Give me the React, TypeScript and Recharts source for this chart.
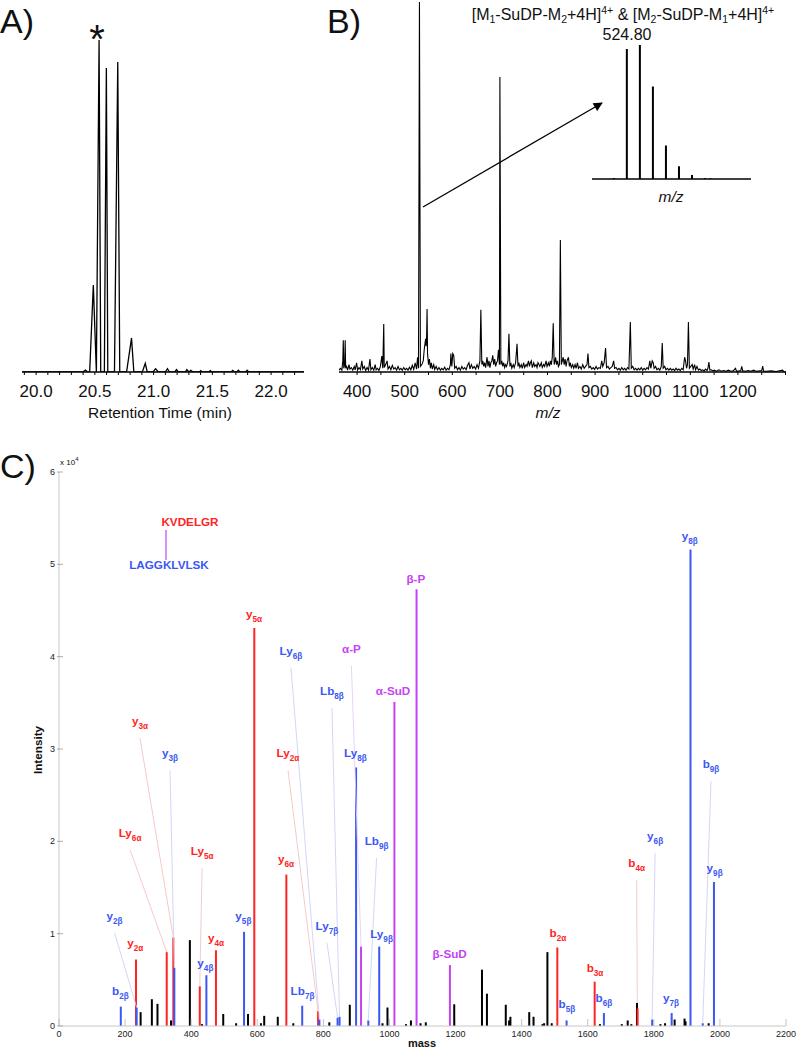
import React from 'react';
import { LineChart, Line, BarChart, Bar, XAxis, YAxis, ReferenceLine, ReferenceDot } from 'recharts';

const FONT = '"Liberation Sans", Arial, Helvetica, sans-serif';

// ---- A) chromatogram: [retention time (min), relative intensity]
const chromatogram: [number, number][] = [
  [19.88, 0], [20.4, 0], [20.419, 0.6], [20.44, 0], [20.456, 0], [20.487, 26.2], [20.513, 0],
  [20.536, 100], [20.55, 0], [20.581, 0], [20.598, 91.6], [20.61, 0], [20.667, 0], [20.695, 93.4],
  [20.712, 0], [20.77, 0], [20.812, 10.2], [20.832, 0], [20.904, 0], [20.929, 2.6], [20.946, 0],
  [20.995, 0], [21.017, 1.0], [21.04, 0], [21.1, 0], [21.118, 1.0], [21.135, 0], [21.18, 0],
  [21.195, 0.7], [21.21, 0], [21.27, 0], [21.283, 0.7], [21.3, 0], [21.317, 0.5], [21.335, 0],
  [21.39, 0], [21.402, 0.4], [21.415, 0], [21.47, 0], [21.482, 0.4], [21.495, 0], [21.66, 0],
  [21.673, 0.5], [21.69, 0], [21.71, 0], [21.721, 0.5], [21.735, 0], [21.785, 0], [21.796, 0.5],
  [21.81, 0], [22.28, 0],
];
const rtTicks = [19.9, 20, 20.1, 20.2, 20.3, 20.4, 20.5, 20.6, 20.7, 20.8, 20.9, 21, 21.1, 21.2, 21.3, 21.4, 21.5, 21.6, 21.7, 21.8, 21.9, 22, 22.1, 22.2];

// ---- B) full MS scan: [m/z, relative abundance]
const msScan: [number, number][] = [
  [362, 0.5], [365, 1], [368, 0.5], [370, 3], [371, 8.6], [372, 1], [374, 2], [375, 8.6], [376, 1], [378, 1.5],
  [380, 0.5], [383, 2], [385, 0.8], [388, 1.2], [391, 0.5], [394, 1.5], [396, 0.6], [399, 2.5], [401, 0.5], [404, 1.2],
  [407, 0.6], [410, 3], [412, 0.8], [415, 1.5], [418, 0.4], [421, 1.2], [424, 0.5], [427, 3.5], [429, 0.6], [432, 1.2],
  [435, 0.5], [438, 2], [440, 0.6], [443, 1], [446, 0.4], [449, 1.5], [452, 4.3], [454, 1], [456, 13], [457, 1.2],
  [460, 2], [463, 3], [465, 0.8], [468, 1.5], [471, 0.6], [474, 1.8], [477, 0.8], [480, 1.2], [483, 0.5], [486, 1.5],
  [489, 0.6], [492, 1], [495, 0.5], [498, 1.2], [501, 0.6], [504, 1], [507, 0.5], [510, 1.3], [513, 0.6], [516, 1.8],
  [519, 0.7], [522, 2.5], [525, 0.8], [527, 4], [529, 1], [531, 100], [533, 1.5], [536, 2], [539, 3], [541, 6],
  [543, 8], [544, 9], [545, 7], [546, 9], [547, 17], [548, 5], [550, 2], [552, 3.5], [554, 1], [556, 2.5],
  [558, 0.8], [561, 2], [563, 0.7], [566, 1.5], [569, 0.6], [572, 1.2], [575, 0.5], [578, 1], [581, 0.6], [584, 1.3],
  [587, 0.5], [590, 1], [593, 0.6], [596, 2], [597, 5], [599, 1.5], [601, 5], [603, 4.5], [605, 1], [608, 1.5],
  [611, 0.6], [614, 1.2], [617, 0.5], [620, 1.5], [623, 0.8], [626, 1.2], [629, 0.6], [632, 1.8], [635, 2.5], [637, 0.8],
  [640, 2], [643, 1], [646, 1.5], [649, 0.8], [652, 2], [655, 1], [658, 3], [660, 16.8], [662, 2], [664, 3],
  [666, 1.5], [668, 2.5], [670, 1.2], [673, 4], [675, 1.5], [677, 3], [679, 1.2], [681, 2.5], [683, 3], [685, 4.5],
  [687, 2], [689, 3.5], [691, 1.5], [693, 2.5], [695, 3], [697, 6], [699, 2], [700, 79.7], [702, 2], [704, 3],
  [706, 1.5], [708, 2.5], [710, 1.2], [712, 2], [714, 1.5], [717, 3], [719, 10.3], [721, 1.5], [723, 2.5], [725, 1],
  [728, 2], [730, 1.2], [733, 2.5], [736, 7.6], [738, 1.5], [740, 2.5], [742, 1.2], [745, 2], [747, 1], [750, 2.5],
  [752, 1.2], [755, 2], [757, 1.5], [760, 3], [762, 1.5], [764, 2.5], [766, 3], [768, 1.2], [771, 2.5], [773, 1.5],
  [776, 2], [778, 1.2], [780, 2.5], [782, 2], [784, 1.5], [787, 2.5], [789, 1.2], [792, 2], [794, 1.5], [797, 3],
  [799, 1.5], [802, 2.5], [804, 1.5], [806, 3], [808, 2], [810, 4], [812, 13.2], [814, 2], [816, 3], [817, 4],
  [819, 2], [821, 3], [823, 1.5], [825, 2], [827, 35.7], [829, 2], [831, 3], [833, 4], [835, 2], [837, 3.5],
  [839, 1.5], [841, 3], [844, 4], [846, 1.5], [848, 2.5], [850, 1.2], [853, 2], [855, 1], [858, 2], [860, 1],
  [863, 2.5], [865, 1], [868, 1.5], [871, 0.8], [874, 2], [877, 1], [880, 1.5], [883, 2], [885, 5], [887, 1.2],
  [890, 1.5], [893, 0.8], [896, 1.2], [899, 0.7], [902, 1.5], [905, 0.8], [908, 1.2], [911, 1], [914, 3], [916, 1.5],
  [919, 2.5], [922, 6.5], [924, 1.2], [927, 1.5], [930, 0.8], [933, 1.2], [936, 1.5], [939, 3], [941, 1], [944, 1.2],
  [947, 0.6], [950, 1], [953, 0.5], [956, 1.2], [959, 0.6], [962, 1], [965, 0.5], [968, 1.2], [971, 0.8], [974, 13.5],
  [976, 1], [979, 1.5], [982, 0.6], [985, 1], [988, 0.5], [991, 1], [994, 0.6], [997, 1.2], [1000, 0.5], [1003, 1],
  [1006, 0.6], [1009, 1.2], [1012, 0.8], [1015, 3], [1017, 1], [1020, 3], [1022, 2.5], [1024, 1], [1027, 1.5], [1030, 0.6],
  [1033, 1], [1036, 0.5], [1039, 1.5], [1041, 7.8], [1043, 1], [1046, 1.5], [1049, 0.6], [1052, 1], [1055, 0.5], [1058, 1],
  [1061, 0.5], [1064, 0.8], [1067, 0.4], [1070, 1], [1073, 0.5], [1076, 0.8], [1079, 0.4], [1082, 1], [1085, 0.6], [1088, 4],
  [1090, 3], [1092, 1], [1094, 2], [1096, 13.5], [1098, 1], [1101, 1.5], [1104, 2], [1106, 0.8], [1109, 2], [1111, 0.6],
  [1114, 1.5], [1117, 0.5], [1120, 0.8], [1123, 0.4], [1126, 0.6], [1129, 0.3], [1132, 0.8], [1135, 0.4], [1137, 1], [1139, 2.7],
  [1141, 0.5], [1144, 0.6], [1147, 0.3], [1150, 0.5], [1155, 0.2], [1160, 0.6], [1165, 0.2], [1170, 0.4], [1175, 0.2], [1180, 0.5],
  [1185, 0.2], [1190, 0.3], [1195, 1], [1197, 0.2], [1202, 0.3], [1206, 0.4], [1208, 1.5], [1210, 0.3], [1215, 0.2], [1222, 0.4],
  [1227, 0.2], [1233, 0.5], [1238, 0.2], [1245, 0.3], [1250, 0.4], [1252, 1.6], [1254, 0.2], [1260, 0.2], [1270, 0.3], [1280, 0.1],
  [1294, 0.5], [1296, 0.1], [1301, 0],
];
const mzTicks = [400, 450, 500, 550, 600, 650, 700, 750, 800, 850, 900, 950, 1000, 1050, 1100, 1150, 1200, 1250, 1300];

// inset: isotope envelope of the 4+ precursor
const isotopes: [number, number][] = [
  [524.3, 0.7], [524.55, 97], [524.8, 100], [525.05, 69], [525.3, 25], [525.55, 9.5], [525.8, 3], [526.05, 0.7], [526.15, 0.5],
];

// ---- C) MS/MS: [mass, intensity]
const unassigned: [number, number][] = [
  [247, 1500], [281, 2900], [298, 2400], [339, 600], [396, 9300], [433, 200], [497, 1300], [536, 300], [572, 1300],
  [611, 300], [621, 1100], [662, 1000], [709, 300], [818, 400], [880, 2300], [979, 300], [994, 2000], [1050, 200],
  [1065, 600], [1094, 300], [1110, 400], [1196, 2350], [1280, 6100], [1295, 3500], [1352, 2300], [1362, 600],
  [1366, 1000], [1423, 1500], [1436, 1000], [1463, 200], [1468, 300], [1478, 8000], [1491, 300], [1637, 200],
  [1703, 200], [1721, 600], [1732, 200], [1749, 2500], [1820, 200], [1834, 300], [1863, 700], [1893, 800],
  [1896, 500], [1966, 300],
];
const alphaIons: [number, number][] = [
  [233, 7200], [326, 8000], [346, 9600], [426, 4300], [475, 8200], [591, 43100], [688, 16400], [784, 1600],
  [1508, 8500], [1621, 4800], [1751, 1900],
];
const betaIons: [number, number][] = [
  [187, 2100], [235, 2000], [349, 6300], [446, 5500], [560, 10200], [736, 2200], [788, 700], [843, 900],
  [849, 1000], [899, 28000], [936, 600], [969, 8600], [1536, 600], [1649, 1400], [1795, 700], [1854, 1400],
  [1911, 51600], [1948, 300], [1982, 15600],
];
const crosslinkIons: [number, number][] = [
  [914, 8600], [1015, 35100], [1082, 47300], [1183, 6600],
];
const massTicks = [0, 200, 400, 600, 800, 1000, 1200, 1400, 1600, 1800, 2000, 2200];
const intTicks = [0, 10000, 20000, 30000, 40000, 50000, 60000];

// ion annotations: label anchor (mass, intensity) and optional leader target
const ionLabels = [
  { ion: 'y', sub: '5α', kind: 'a', at: [590, 44200] },
  { ion: 'Ly', sub: '6β', kind: 'b', at: [702, 40200], to: [788, 700] },
  { ion: 'Lb', sub: '8β', kind: 'b', at: [826, 35850], to: [849, 1000] },
  { ion: 'α-P', sub: '', kind: 'x', at: [885, 40400], to: [914, 8600] },
  { ion: 'α-SuD', sub: '', kind: 'x', at: [1011, 35850] },
  { ion: 'Ly', sub: '8β', kind: 'b', at: [897, 29100] },
  { ion: 'β-P', sub: '', kind: 'x', at: [1080, 48000] },
  { ion: 'y', sub: '8β', kind: 'b', at: [1909, 52600] },
  { ion: 'y', sub: '3α', kind: 'a', at: [245, 32600], to: [346, 9600] },
  { ion: 'y', sub: '3β', kind: 'b', at: [336, 29100], to: [349, 6300] },
  { ion: 'Ly', sub: '6α', kind: 'a', at: [215, 20500], to: [326, 8000] },
  { ion: 'Ly', sub: '5α', kind: 'a', at: [433, 18500], to: [426, 4300] },
  { ion: 'y', sub: '2β', kind: 'b', at: [168, 11500], to: [235, 2000] },
  { ion: 'y', sub: '2α', kind: 'a', at: [231, 8600] },
  { ion: 'y', sub: '4α', kind: 'a', at: [475, 9100] },
  { ion: 'y', sub: '4β', kind: 'b', at: [443, 6400] },
  { ion: 'b', sub: '2β', kind: 'b', at: [186, 3400] },
  { ion: 'y', sub: '5β', kind: 'b', at: [558, 11500] },
  { ion: 'y', sub: '6α', kind: 'a', at: [687, 17700] },
  { ion: 'Lb', sub: '7β', kind: 'b', at: [737, 3400] },
  { ion: 'Ly', sub: '2α', kind: 'a', at: [693, 29100], to: [784, 1600] },
  { ion: 'Ly', sub: '7β', kind: 'b', at: [811, 10400], to: [843, 900] },
  { ion: 'Lb', sub: '9β', kind: 'b', at: [961, 19600], to: [936, 600] },
  { ion: 'Ly', sub: '9β', kind: 'b', at: [976, 9500] },
  { ion: 'β-SuD', sub: '', kind: 'x', at: [1182, 7400] },
  { ion: 'b', sub: '2α', kind: 'a', at: [1510, 9600] },
  { ion: 'b', sub: '5β', kind: 'b', at: [1537, 1950] },
  { ion: 'b', sub: '3α', kind: 'a', at: [1622, 5850] },
  { ion: 'b', sub: '6β', kind: 'b', at: [1649, 2600] },
  { ion: 'b', sub: '4α', kind: 'a', at: [1748, 17200], to: [1750, 2500] },
  { ion: 'y', sub: '6β', kind: 'b', at: [1804, 20100], to: [1795, 700] },
  { ion: 'y', sub: '7β', kind: 'b', at: [1852, 2600] },
  { ion: 'b', sub: '9β', kind: 'b', at: [1973, 27900], to: [1948, 300] },
  { ion: 'y', sub: '9β', kind: 'b', at: [1984, 16700] },
];

const KIND_COLOR: Record<string, string> = { n: '#000000', a: '#ff2424', b: '#3b58f4', x: '#c444f2' };
const LEADER_COLOR: Record<string, string> = { a: '#f6c3c3', b: '#cdd3f6', x: '#e6cdf6' };

const chromData = chromatogram.map(([t, v]) => ({ t, v }));
const msData = msScan.map(([mz, v]) => ({ mz, v }));
const isoData = isotopes.map(([mz, v]) => ({ mz, v, kind: 'n' }));
const msmsData = [
  ...unassigned.map(([mass, v]) => ({ mass, v, kind: 'n' })),
  ...alphaIons.map(([mass, v]) => ({ mass, v, kind: 'a' })),
  ...betaIons.map(([mass, v]) => ({ mass, v, kind: 'b' })),
  ...crosslinkIons.map(([mass, v]) => ({ mass, v, kind: 'x' })),
];

// thin stick centred on the bar slot
const Stick = (p: any) => {
  const { x, y, width, height, payload } = p;
  if (x == null || y == null || !isFinite(x) || !isFinite(y)) return null;
  const cx = x + (width || 0) / 2;
  return <rect x={cx - 1} y={y} width={2} height={Math.max(height || 0, 0.6)} fill={KIND_COLOR[payload.kind]} />;
};

const MassTick = (p: any) => {
  const { x, y, payload } = p;
  return (
    <g>
      <line x1={x} x2={x} y1={y - 4} y2={y - 11} stroke="#b5b5b5" strokeWidth={0.8} />
      <text x={x} y={y + 7} textAnchor="middle" fontSize={9} fill="#222" fontFamily={FONT}>{payload.value}</text>
    </g>
  );
};

const IntTick = (p: any) => {
  const { x, y, payload } = p;
  return (
    <g>
      <line x1={x + 2} x2={x + 8} y1={y} y2={y} stroke="#999" strokeWidth={0.8} />
      <text x={x} y={y + 3} textAnchor="end" fontSize={9} fill="#222" fontFamily={FONT}>{payload.value / 10000}</text>
    </g>
  );
};

const IonLabel = ({ cx, cy, ion, sub, color }: any) => (
  <text x={cx} y={cy} textAnchor="middle" fontSize={11.7} fontWeight="bold" fill={color} fontFamily={FONT}>
    {ion}
    {sub ? <tspan dy={4} fontSize={8.2}>{sub}</tspan> : null}
  </text>
);

export default function App() {
  const txt = { fontFamily: FONT, fill: '#111' };
  return (
    <div style={{ position: 'absolute', left: 0, top: 0, width: 797, height: 1050, background: '#fff', overflow: 'hidden' }}>
      {/* A */}
      <div style={{ position: 'absolute', left: 0, top: 0 }}>
        <LineChart width={320} height={430} data={chromData} margin={{ top: 40, right: 16, bottom: 0, left: 22 }}>
          <XAxis
            type="number"
            dataKey="t"
            domain={[19.88, 22.28]}
            allowDataOverflow
            ticks={rtTicks}
            interval={0}
            tickFormatter={(v: number) => (Math.abs(v * 2 - Math.round(v * 2)) < 1e-6 ? v.toFixed(1) : '')}
            tickSize={3}
            tickMargin={10}
            height={58}
            axisLine={{ stroke: '#000', strokeWidth: 1.5 }}
            tickLine={{ stroke: '#000' }}
            tick={{ fontSize: 17, fill: '#111', fontFamily: FONT }}
          />
          <YAxis hide domain={[0, 100]} allowDataOverflow />
          <Line type="linear" dataKey="v" stroke="#000" strokeWidth={1.3} dot={false} isAnimationActive={false} />
        </LineChart>
      </div>

      {/* B */}
      <div style={{ position: 'absolute', left: 330, top: 0 }}>
        <LineChart width={467} height={430} data={msData} margin={{ top: 2, right: 11, bottom: 0, left: 9 }}>
          <XAxis
            type="number"
            dataKey="mz"
            domain={[362, 1301]}
            allowDataOverflow
            ticks={mzTicks}
            interval={0}
            tickFormatter={(v: number) => (v % 100 === 0 && v <= 1200 ? String(v) : '')}
            tickSize={3}
            tickMargin={10}
            height={58}
            axisLine={{ stroke: '#000', strokeWidth: 1.5 }}
            tickLine={{ stroke: '#000' }}
            tick={{ fontSize: 17, fill: '#111', fontFamily: FONT }}
          />
          <YAxis hide domain={[0, 100]} allowDataOverflow />
          <Line type="linear" dataKey="v" stroke="#000" strokeWidth={1.1} dot={false} isAnimationActive={false} />
        </LineChart>
      </div>

      {/* B inset */}
      <div style={{ position: 'absolute', left: 592, top: 45 }}>
        <BarChart width={159} height={140} data={isoData} margin={{ top: 0, right: 0, bottom: 0, left: 0 }}>
          <XAxis
            type="number"
            dataKey="mz"
            domain={[523.88, 526.93]}
            allowDataOverflow
            tick={false}
            tickLine={false}
            height={6}
            axisLine={{ stroke: '#000', strokeWidth: 1.3 }}
          />
          <YAxis hide domain={[0, 100]} allowDataOverflow />
          <Bar dataKey="v" shape={Stick} isAnimationActive={false} />
        </BarChart>
      </div>

      {/* C */}
      <div style={{ position: 'absolute', left: 0, top: 440 }}>
        <BarChart width={797} height={610} data={msmsData} margin={{ top: 32, right: 11, bottom: 0, left: 0 }}>
          <XAxis
            type="number"
            dataKey="mass"
            domain={[0, 2200]}
            allowDataOverflow
            ticks={massTicks}
            interval={0}
            tickSize={0}
            tickMargin={4}
            tickLine={false}
            height={24}
            axisLine={{ stroke: '#c8c8c8', strokeWidth: 1 }}
            tick={<MassTick />}
          />
          <YAxis
            type="number"
            domain={[0, 60000]}
            allowDataOverflow
            ticks={intTicks}
            interval={0}
            width={59}
            tickSize={0}
            tickMargin={4}
            tickLine={false}
            axisLine={{ stroke: '#c8c8c8', strokeWidth: 1 }}
            tick={<IntTick />}
          />
          {ionLabels.filter((l) => l.to).map((l, i) => (
            <ReferenceLine
              key={'ld' + i}
              segment={[{ x: l.at[0], y: l.at[1] - 1400 }, { x: (l.to as number[])[0], y: (l.to as number[])[1] }]}
              stroke={LEADER_COLOR[l.kind]}
              strokeWidth={0.9}
            />
          ))}
          <Bar dataKey="v" shape={Stick} isAnimationActive={false} />
          {ionLabels.map((l, i) => (
            <ReferenceDot
              key={'lb' + i}
              x={l.at[0]}
              y={l.at[1]}
              r={0}
              shape={(p: any) => <IonLabel cx={p.cx} cy={p.cy} ion={l.ion} sub={l.sub} color={KIND_COLOR[l.kind]} />}
            />
          ))}
        </BarChart>
      </div>

      {/* text and annotations */}
      <svg width={797} height={1050} style={{ position: 'absolute', left: 0, top: 0, pointerEvents: 'none' }}>
        <defs>
          <marker id="ah" viewBox="0 0 10 10" refX="9" refY="5" markerWidth="9" markerHeight="7" orient="auto">
            <path d="M0,0 L10,5 L0,10 z" fill="#000" />
          </marker>
        </defs>
        <text x={0} y={33} fontSize={34} {...txt}>A)</text>
        <text x={327} y={33} fontSize={34} {...txt}>B)</text>
        <text x={0} y={478} fontSize={34} {...txt}>C)</text>
        <text x={97} y={53} fontSize={40} textAnchor="middle" {...txt}>*</text>
        <text x={160} y={418} fontSize={15.5} textAnchor="middle" {...txt}>Retention Time (min)</text>
        <text x={548} y={418} fontSize={15.5} textAnchor="middle" fontStyle="italic" {...txt}>m/z</text>

        <text x={623} y={20} fontSize={16} textAnchor="middle" {...txt}>
          [M<tspan fontSize={10.5} dy={3}>1</tspan>
          <tspan dy={-3}>-SuDP-M</tspan>
          <tspan fontSize={10.5} dy={3}>2</tspan>
          <tspan dy={-3}>+4H]</tspan>
          <tspan fontSize={10.5} dy={-6}>4+</tspan>
          <tspan dy={6}> &amp; [M</tspan>
          <tspan fontSize={10.5} dy={3}>2</tspan>
          <tspan dy={-3}>-SuDP-M</tspan>
          <tspan fontSize={10.5} dy={3}>1</tspan>
          <tspan dy={-3}>+4H]</tspan>
          <tspan fontSize={10.5} dy={-6}>4+</tspan>
        </text>
        <text x={627} y={40} fontSize={16} textAnchor="middle" {...txt}>524.80</text>
        <text x={671} y={202} fontSize={15.5} textAnchor="middle" fontStyle="italic" {...txt}>m/z</text>
        <line x1={423} y1={207} x2={602} y2={103} stroke="#000" strokeWidth={1.3} markerEnd="url(#ah)" />

        <text x={60} y={465} fontSize={8} {...txt}>x 10<tspan fontSize={6} dy={-4}>4</tspan></text>
        <text x={0} y={0} fontSize={11.7} fontWeight="bold" textAnchor="middle" transform="translate(42 750) rotate(-90)" {...txt}>Intensity</text>
        <text x={422} y={1047} fontSize={11} fontWeight="bold" textAnchor="middle" {...txt}>mass</text>

        <text x={190} y={526} fontSize={11.7} fontWeight="bold" textAnchor="middle" fill={KIND_COLOR.a} fontFamily={FONT}>KVDELGR</text>
        <line x1={166} x2={166} y1={530} y2={560} stroke={KIND_COLOR.x} strokeWidth={1.2} />
        <text x={169} y={569} fontSize={11.7} fontWeight="bold" textAnchor="middle" fill={KIND_COLOR.b} fontFamily={FONT}>LAGGKLVLSK</text>
      </svg>
    </div>
  );
}
